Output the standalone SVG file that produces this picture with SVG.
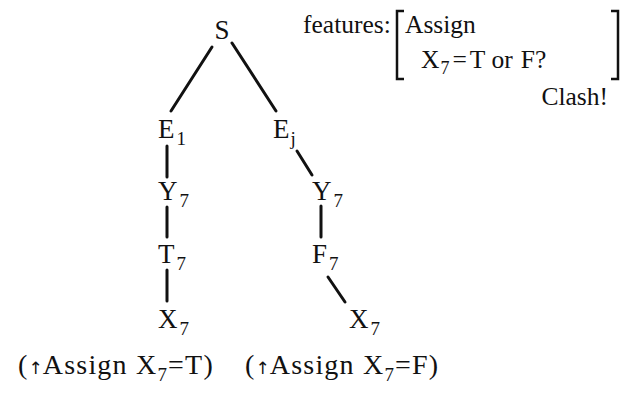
<svg xmlns="http://www.w3.org/2000/svg" width="624" height="394" viewBox="0 0 624 394">
<style>
text{font-family:"Liberation Serif","Times New Roman",serif;font-size:27px;fill:#111}
.sub{font-size:19px}
.f{font-size:25.5px}
.fsub{font-size:18px}
.lab{font-size:28px;letter-spacing:1.2px}
.arr{font-size:17px;font-family:"DejaVu Sans",sans-serif;letter-spacing:0}
.edge{stroke:#111;stroke-width:3;stroke-linecap:round;fill:none}
.br{stroke:#111;stroke-width:2.5;fill:none}
</style>
<rect width="624" height="394" fill="#fff"/>
<g id="connectors">
<line class="edge" x1="212" y1="47" x2="171" y2="111"/>
<line class="edge" x1="232" y1="43" x2="276" y2="111"/>
<line class="edge" x1="167" y1="146" x2="167" y2="177"/>
<line class="edge" x1="297" y1="151" x2="312" y2="175"/>
<line class="edge" x1="167" y1="207" x2="167" y2="237"/>
<line class="edge" x1="321" y1="206" x2="321" y2="237"/>
<line class="edge" x1="167" y1="270" x2="167" y2="301"/>
<line class="edge" x1="328" y1="277" x2="345" y2="302"/>
</g>
<g id="S"><text x="222" y="39" text-anchor="middle">S</text></g>
<g id="E1"><text x="158" y="138">E<tspan class="sub" dx="2" dy="7">1</tspan></text></g>
<g id="Ej"><text x="273" y="138">E<tspan class="sub" dx="1" dy="7">j</tspan></text></g>
<g id="Y7L"><text x="158" y="200">Y<tspan class="sub" dx="2" dy="7">7</tspan></text></g>
<g id="T7"><text x="158" y="263">T<tspan class="sub" dx="2" dy="7">7</tspan></text></g>
<g id="X7L"><text x="158" y="328">X<tspan class="sub" dx="2" dy="7">7</tspan></text></g>
<g id="Y7R"><text x="312" y="200">Y<tspan class="sub" dx="2" dy="7">7</tspan></text></g>
<g id="F7"><text x="312" y="263">F<tspan class="sub" dx="2" dy="7">7</tspan></text></g>
<g id="X7R"><text x="349" y="328">X<tspan class="sub" dx="2" dy="7">7</tspan></text></g>
<g id="features">
<text class="f" x="303" y="33">features:</text>
<path class="br" d="M404 11 H397 V79 H404"/>
<path class="br" d="M611 11 H618 V79 H611"/>
<text class="f" x="405" y="33">Assign</text>
<text class="f" x="421" y="68">X<tspan class="fsub" dx="1" dy="6">7</tspan><tspan dx="3" dy="-6">=</tspan><tspan dx="3">T</tspan><tspan dx="8">or</tspan><tspan dx="8">F?</tspan></text>
<text class="f" x="608" y="105" text-anchor="end">Clash!</text>
</g>
<g id="labels">
<text class="lab" x="18" y="374">(<tspan class="arr">↑</tspan>Assign X<tspan class="sub" dy="7">7</tspan><tspan dy="-7">=T)</tspan></text>
<text class="lab" x="245" y="374">(<tspan class="arr">↑</tspan>Assign X<tspan class="sub" dy="7">7</tspan><tspan dy="-7">=F)</tspan></text>
</g>
</svg>
